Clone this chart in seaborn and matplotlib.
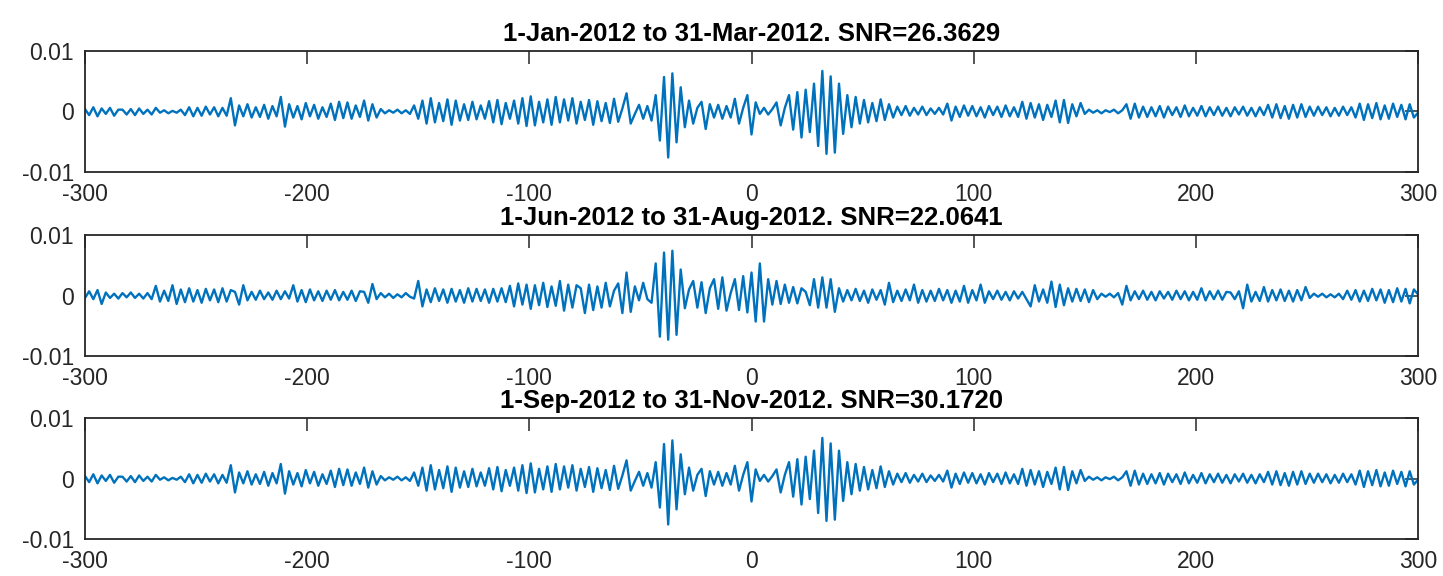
import numpy as np
import pandas as pd
import matplotlib
matplotlib.use("Agg")
import matplotlib.pyplot as plt
import seaborn as sns

# panel titles
titles = [
    "1-Jan-2012 to 31-Mar-2012. SNR=26.3629",
    "1-Jun-2012 to 31-Aug-2012. SNR=22.0641",
    "1-Sep-2012 to 31-Nov-2012. SNR=30.1720",
]

x_ticks = [-300, -200, -100, 0, 100, 200, 300]
x_tick_labels = ["-300", "-200", "-100", "0", "100", "200", "300"]
y_ticks = [-0.01, 0, 0.01]
y_tick_labels = ["-0.01", "0", "0.01"]
lag_min, lag_max = -300, 300

# cross-correlation traces, in units of 1e-4,
# one value every 1.875 s of lag from -300 to 300
jan_mar = [
    4, -6, 7, -8, 5, -4, 6, -7, 3,
    3, -5, 4, -6, 5, -4, 3, -5, 6,
    -2, 2, -3, 1, -2, 3,
    -6, 7, -8, 6, -7, 8, -5, 7, -8, 6, -7,
    22, -23,
    10, -8, 12, -10, 7, -9, 11, -12, 9, -8,
    24, -25,
    12, -10, 9, -13, 14, -8, 11, -12, 7, -9, 13, -14, 16, -11, 15, -12, 10, -9, 18, -15, 12, -10,
    4, -3, 2, -2, 3, -3, 2, -4,
    10, -12, 18, -20, 22, -18, 14, -16, 20, -22, 18, -15, 12, -14, 16, -13, 10, -12,
    17, -18, 19, -21, 14, -12, 18, -20, 22, -24, 25, -23, 16, -18, 20, -22, 24,
    -18, 20, -15, 22, -20, 16, -14, 19, -22, 17, -16, 14, -19, 21, -17, 5, 30, -20,
    -4, 11, -12, 9, -15, 27,
    -48, 57, -76, 63, -51, 40, -26,
    18, -20, 6, 16, -29, 12, -10, 11, -12, 9, -10, 21, -20, 6, 27, -38, 15, -4, 6, -5,
    4, 15, -23, 6, 27, -30,
    32, -43, 36, -34, 46, -57, 67, -70, 58, -68, 46, -37, 27, -26,
    24, -20, 19, -18, 14, -16, 20, -14, 12, -10, 8, -6, 9, -7, 6, -5, 8, -6, 5, -4, 6,
    -5, 13, -15, 8, -9, 10, -7, 9, -8, 7, -10, 9, -6, 8, -9, 10, -8, 7, -9,
    16, -12, 14, -10, 12, -14, 11, -9, 18, -18, 19, -19, 12, -8, 14, -4,
    3, -2, 2, -3, 2, -1, 3, -3, 2, 12, -12, 13, -10, 8,
    -9, 7, -8, 9, -10, 8, -6, 7, -9, 10, -8, 6, -7, 9, -8, 7, -6, 8, -7,
    6, -8, 7, -5, 8, -7, 6, -8, 7, -6, 11,
    -10, 12, -11, 9, -12, 11, -10, 12, -9, 8,
    -7, 8, -6, 7, -8, 6, -7, 8, -6, 7,
    -10, 13, -14, 12, -11, 14, -13, 10, -12, 13, -9, 11, -13, 12, -10, -2,
]

jun_aug = [
    -4, 7, -6, 9, -14,
    5, -4, 3, -5, 4, -3, 5, -4, 3, -5, 4,
    -6, 16, -10, 8, -9, 17, -14,
    10, -11, 12, -10, 9, -12, 11, -8, 10, -11, 12, -10, 9, 6, -15,
    17,
    -8, 6, -7, 8, -6, 5, -7, 8, -6, 7, -5,
    17, -10, 9, -11, 10,
    -8, 7, -9, 8, -7, 9, -8, 6, -7, 8, -9, 7, 6, -12, 19,
    -6, 4, -3, 3, -4, 2, -3, 4, -2,
    -5, 24, -18,
    10, -11, 12, -9, 10, -12, 11, -10, 9, -12, 12, -10, 11, -9, 10, -12, 11, -10, 12, -11,
    16, -18, 20, -15, 18, -22, 17, -16, 21, -19, 15, -17, 24, -25, 18, -20, 17, 12,
    -29, 18, -24, 15, -20, 21, -18, 8, 20, -29, 38, -27, 15, -8, 21, -6, -12,
    53, -68, 71, -73, 74, -65, 43, -21,
    10, 24, -20, 22, -29, 12, 27, -22, 30, -25, 4, 27, -24, 32, -28,
    38, -43, 53, -43, 27,
    -15, 24, -14, 18, -12, 14, -13, 12, 6, -16, 27, -20, 30, -20, 27, -27, 12,
    -10, 9, -8, 11, -9, 8, -12, 10, -7, 9, -15, 21, -11, 8, -9, 10, -8, 18, -12, 9, -10, 8, -9, 11,
    -8, 9, -12, 8, -10, 16, -12, 9, -8, 18, -12,
    7, -6, 8, -7, 6, -8, 7, -5, 6,
    -6, -18, 17, -10,
    10, -12, 23, -19, 18, -16, 12,
    -10, 11, -9, 10, -11, 9, -6,
    3, -2, 3, -3,
    4, -15, 16,
    -8, 7, -6, 8, -7, 6, -8, 7, -5, 6, -7, 8, -6, 7, -8, 6, -7, 12, -8, 7, -6, 8, -7, 6,
    5, -6, 7, -21, 18,
    -10, 6, -9, 14, -10, 9, -8, 10, -9, 8, -10, 9, -8, 14,
    -4, 3, -2, 3, -3, 2, -3, 3,
    -6, 8, -7, 9, -10, 8, -9, 11, -8, 10, -12, 9, -11, 12, -10, 11, -13, 10, 2,
]

# the third panel shows the same trace as the first one
sep_nov = list(jan_mar)

sns.set_style("white")
plt.rcParams["font.family"] = ["Liberation Sans", "DejaVu Sans"]
plt.rcParams["axes.unicode_minus"] = False

line_color = "#0072BD"
axis_color = "#262626"

fig = plt.figure(figsize=(14.43, 5.76), dpi=100)
bottoms = [0.7014, 0.3819, 0.0642]

for series, title, b in zip([jan_mar, jun_aug, sep_nov], titles, bottoms):
    ax = fig.add_axes([0.0589, b, 0.9238, 0.2101])
    amp = np.array(series, dtype=float) * 1e-4
    lag = np.linspace(lag_min, lag_max, len(amp))
    df = pd.DataFrame({"lag": lag, "amp": amp})
    sns.lineplot(data=df, x="lag", y="amp", ax=ax, color=line_color, linewidth=1.7)

    ax.set_xlim(lag_min, lag_max)
    ax.set_ylim(-0.01, 0.01)
    ax.set_xticks(x_ticks)
    ax.set_xticklabels(x_tick_labels)
    ax.set_yticks(y_ticks)
    ax.set_yticklabels(y_tick_labels)
    ax.set_xlabel("")
    ax.set_ylabel("")
    ax.tick_params(direction="in", length=9.4, width=1.1, top=True, right=True,
                   labelsize=16.5, colors=axis_color)
    ax.tick_params(axis="x", pad=8)
    ax.tick_params(axis="y", pad=8)
    for sp in ax.spines.values():
        sp.set_visible(True)
        sp.set_color(axis_color)
        sp.set_linewidth(1.3)
    ax.set_title(title, fontsize=18.5, fontweight="bold", color="black", pad=7)

fig.savefig("out.png", dpi=100)
